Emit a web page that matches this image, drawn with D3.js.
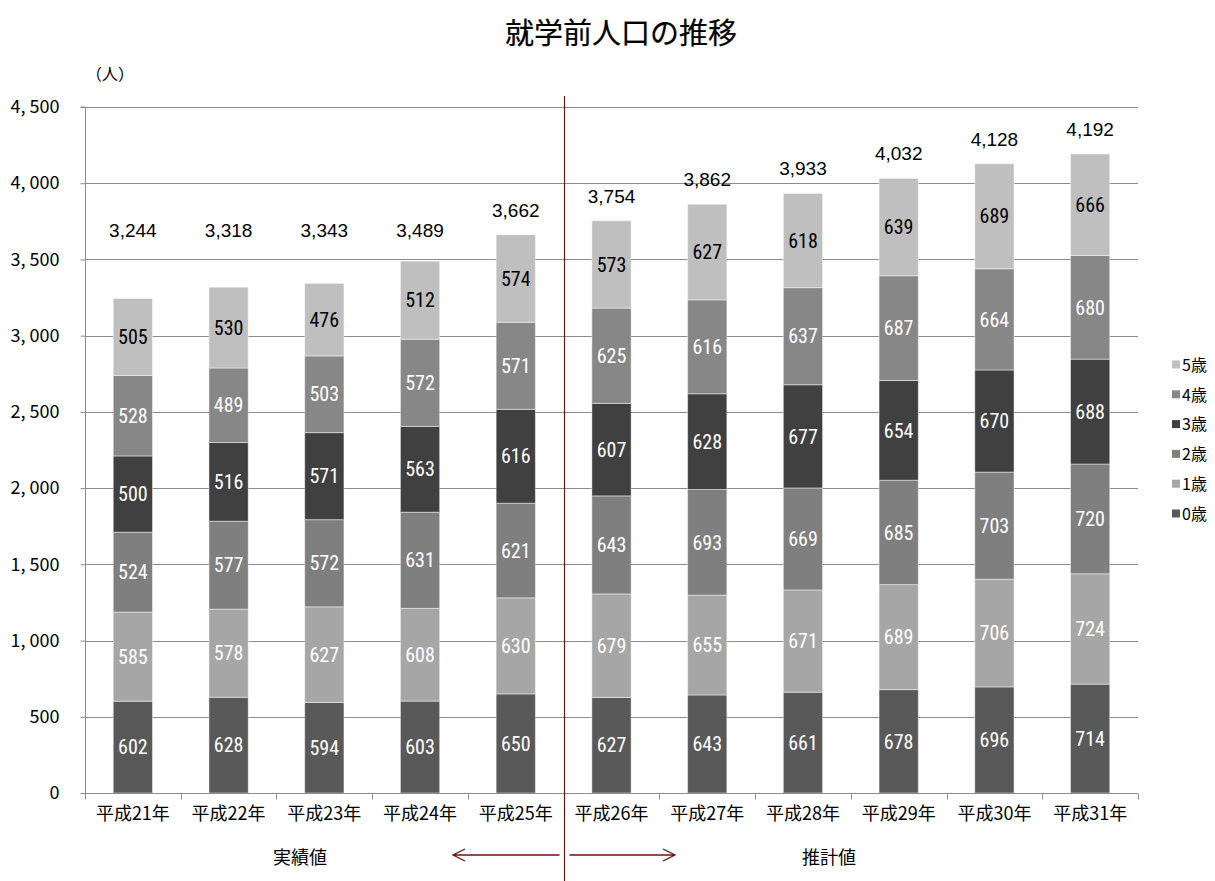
<!DOCTYPE html>
<html><head><meta charset="utf-8">
<script src="https://cdn.jsdelivr.net/npm/d3@7"></script>
<style>html,body{margin:0;padding:0;background:#fff;}</style>
</head><body>
<svg id="chart" width="1215" height="881"></svg>
<script>
const categories = ["平成21年","平成22年","平成23年","平成24年","平成25年","平成26年","平成27年","平成28年","平成29年","平成30年","平成31年"];
const age0 = [602,628,594,603,650,627,643,661,678,696,714];
const age1 = [585,578,627,608,630,679,655,671,689,706,724];
const age2 = [524,577,572,631,621,643,693,669,685,703,720];
const age3 = [500,516,571,563,616,607,628,677,654,670,688];
const age4 = [528,489,503,572,571,625,616,637,687,664,680];
const age5 = [505,530,476,512,574,573,627,618,639,689,666];
const totals = [3244,3318,3343,3489,3662,3754,3862,3933,4032,4128,4192];
const seriesNames = ["0歳","1歳","2歳","3歳","4歳","5歳"];
const yTicks = [0,500,1000,1500,2000,2500,3000,3500,4000,4500];
const title = "就学前人口の推移";
const unitLabel = "（人）";
const periodLabels = ["実績値","推計値"];

const seriesValues = [age0,age1,age2,age3,age4,age5];
const colors = ["#595959","#a6a6a6","#7f7f7f","#404040","#878787","#bfbfbf"];
const labelColors = ["#fff","#fff","#fff","#fff","#fff","#000"];

const svg = d3.select("#chart");
const L = 85, R = 1138, T = 107, B = 793;
const x = d3.scaleBand().domain(categories).range([L, R]).padding(0);
const y = d3.scaleLinear().domain([0, 4500]).range([B, T]);
const barW = x.bandwidth() * 0.41;
const jp = "'Noto Sans CJK JP', sans-serif";
const narrow = "'Liberation Sans Narrow', 'Roboto Condensed', 'Liberation Sans', sans-serif";
const gridColor = "#8c8c8c";

// title
svg.append("text").attr("x", 621).attr("y", 44).attr("text-anchor", "middle")
  .attr("font-family", jp).attr("font-size", 29).attr("fill", "#000")
  .attr("stroke", "#000").attr("stroke-width", 0.2).text(title);
svg.append("text").attr("x", 86).attr("y", 80)
  .attr("font-family", jp).attr("font-size", 16).attr("fill", "#000").text(unitLabel);

// gridlines
svg.append("g").selectAll("line").data(yTicks.filter(d => d > 0)).join("line")
  .attr("x1", L).attr("x2", R).attr("y1", d => Math.round(y(d)) + 0.5).attr("y2", d => Math.round(y(d)) + 0.5)
  .attr("stroke", gridColor).attr("stroke-width", 1);

// y axis
const yAxis = d3.axisLeft(y).tickValues(yTicks).tickSize(5).tickPadding(21)
  .tickFormat(d => d3.format(",")(d).replace(",", ", "));
const gy = svg.append("g").attr("transform", `translate(${L + 0.5},0)`).call(yAxis);
gy.select(".domain").attr("stroke", gridColor).attr("d", `M-5,${T}H0V${B}`);
gy.selectAll(".tick line").attr("stroke", gridColor);
gy.selectAll(".tick text").attr("font-family", jp).attr("font-size", 18).attr("fill", "#000");

// stacked bars
const stackData = categories.map((c, i) => {
  const o = { cat: c };
  seriesNames.forEach((s, k) => o[s] = seriesValues[k][i]);
  return o;
});
const stack = d3.stack().keys(seriesNames)(stackData);
const gBars = svg.append("g");
stack.forEach((layer, k) => {
  gBars.append("g").selectAll("rect").data(layer).join("rect")
    .attr("x", d => x(d.data.cat) + x.bandwidth() / 2 - barW / 2)
    .attr("width", barW)
    .attr("y", d => y(d[1]))
    .attr("height", d => y(d[0]) - y(d[1]))
    .attr("fill", colors[k])
    .attr("stroke", "#ffffff").attr("stroke-opacity", 0.45).attr("stroke-width", 1);
});
stack.forEach((layer, k) => {
  gBars.append("g").selectAll("text").data(layer).join("text")
    .attr("x", d => x(d.data.cat) + x.bandwidth() / 2)
    .attr("y", d => (y(d[0]) + y(d[1])) / 2)
    .attr("dy", "0.36em").attr("text-anchor", "middle")
    .attr("font-family", narrow).attr("font-size", 20).attr("font-weight", 400)
    .attr("fill", labelColors[k])
    .text(d => d[1] - d[0]);
});

// totals
svg.append("g").selectAll("text").data(totals).join("text")
  .attr("x", (d, i) => x(categories[i]) + x.bandwidth() / 2)
  .attr("y", d => Math.min(y(d) - 25, y(3690)))
  .attr("dy", "0.36em").attr("text-anchor", "middle")
  .attr("font-family", "'Liberation Sans', sans-serif").attr("font-size", 19).attr("fill", "#000")
  .text(d => d3.format(",")(d));

// x axis
const xAxis = d3.axisBottom(x).tickSize(0).tickPadding(14);
const gx = svg.append("g").attr("transform", `translate(0,${B + 0.5})`).call(xAxis);
gx.select(".domain").attr("stroke", gridColor).attr("d", `M${L},0H${R}`);
gx.selectAll(".tick text").attr("font-family", jp).attr("font-size", 18).attr("fill", "#000");
const bounds = categories.map(c => x(c)).concat([x(categories[categories.length - 1]) + x.step()]);
gx.append("g").selectAll("line").data(bounds).join("line")
  .attr("x1", d => Math.round(d) + 0.5).attr("x2", d => Math.round(d) + 0.5)
  .attr("y1", 0).attr("y2", 6).attr("stroke", gridColor);

// divider & arrows
const divX = Math.round(x(categories[5])) + 0.5;
const red = "#6b1515";
svg.append("line").attr("x1", divX).attr("x2", divX).attr("y1", 96).attr("y2", 881)
  .attr("stroke", red).attr("stroke-width", 1.2);
const ay = 855;
const arrows = svg.append("g").attr("stroke", red).attr("stroke-width", 1.3).attr("fill", "none");
arrows.append("path").attr("d", `M${divX - 5},${ay}H${453} M${465},${ay - 6}L${453},${ay}L${465},${ay + 6}`);
arrows.append("path").attr("d", `M${divX + 5},${ay}H${675} M${663},${ay - 6}L${675},${ay}L${663},${ay + 6}`);
svg.append("text").attr("x", 300).attr("y", 858).attr("dy", "0.36em").attr("text-anchor", "middle")
  .attr("font-family", jp).attr("font-size", 18).text(periodLabels[0]);
svg.append("text").attr("x", 829).attr("y", 858).attr("dy", "0.36em").attr("text-anchor", "middle")
  .attr("font-family", jp).attr("font-size", 18).text(periodLabels[1]);

// legend
const legendOrder = seriesNames.map((s, k) => k).reverse();
const lg = svg.append("g");
legendOrder.forEach((k, i) => {
  const ly = 365 + i * 29.8;
  lg.append("rect").attr("x", 1172).attr("y", ly - 4.5).attr("width", 8).attr("height", 8).attr("fill", colors[k]);
  lg.append("text").attr("x", 1182).attr("y", ly).attr("dy", "0.36em")
    .attr("font-family", jp).attr("font-size", 16).attr("fill", "#000").text(seriesNames[k]);
});
</script>
</body></html>
